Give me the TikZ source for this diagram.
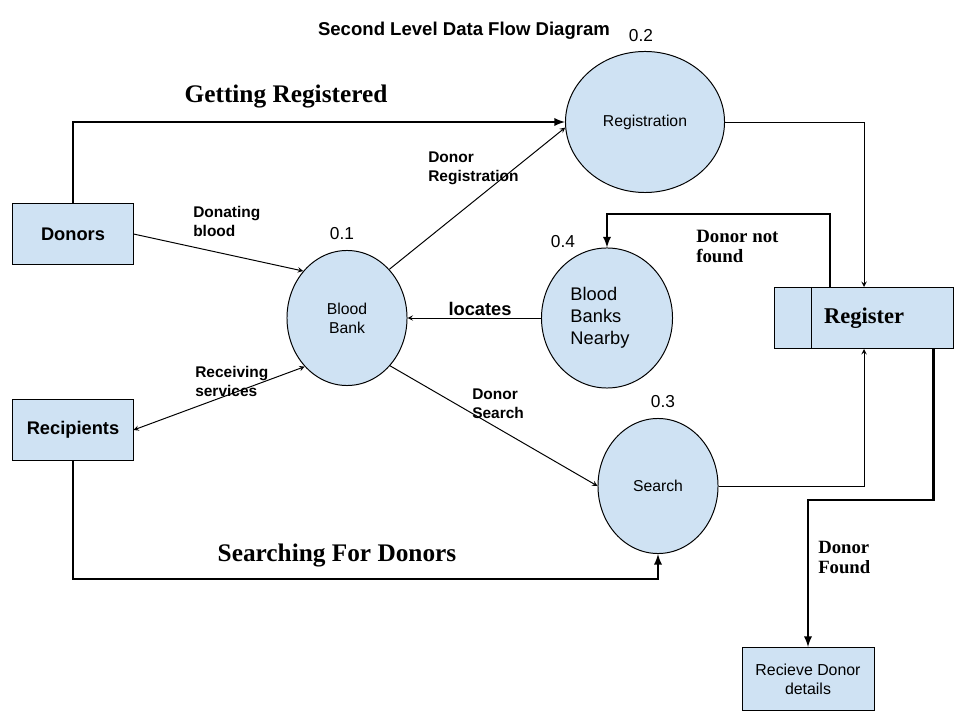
\documentclass[tikz,border=0pt]{standalone}
\usepackage{fontspec}
\setmainfont{Liberation Serif}
\setsansfont{Liberation Sans}
\usepackage{xcolor}
\usetikzlibrary{arrows,shapes.geometric}
\definecolor{paleblue}{HTML}{CFE2F3}

\begin{document}
\begin{tikzpicture}[x=0.025cm, y=-0.025cm,
                    procell/.style={ellipse, align = center, draw = black,
                    fill = paleblue, line width = 0.7pt, inner sep = 0pt,
                    font = \sffamily\fontsize{11.2}{13.6}\selectfont},
                    extrect/.style={rectangle, align = center, draw = black,
                    fill = paleblue, line width = 0.7pt, minimum width = 3cm, minimum height = 1.525cm,
                    font = \sffamily\bfseries\fontsize{13}{15.6}\selectfont},
                    storerect/.style={rectangle, align = center, draw = black,
                    fill = paleblue, line width = 0.7pt, minimum width = 4.45cm, minimum height = 1.525cm,
                    font = \rmfamily\bfseries\fontsize{16}{19}\selectfont},
                    thinarr/.style={>=stealth, ->, line width = 0.7pt, draw = black},
                    thickarr/.style={>=latex, ->, line width = 1.6pt, draw = black},
                    flowlbl/.style={anchor = north west, inner sep = 0pt, align = left,
                    font = \sffamily\bfseries\fontsize{11}{13.5}\selectfont},
                    bigflow/.style={inner sep = 0pt, align = left,
                    font = \rmfamily\bfseries\fontsize{18}{21.6}\selectfont},
                    numlbl/.style={inner sep = 0pt, font = \sffamily\fontsize{12.3}{14.8}\selectfont}]

                    \useasboundingbox (0,0) rectangle (960,720);

                    % title
                    \node[inner sep = 0pt, font = \sffamily\bfseries\fontsize{13.2}{16}\selectfont] (title) at (464,31) {Second Level Data Flow Diagram};

                    % entities and stores
                    \node[extrect] (donors) at (73,234) {Donors};
                    \node[extrect] (recip) at (73,430) {Recipients};
                    \node[storerect] (register) at (864,318) {Register};
                    \draw[line width = 0.7pt] ([xshift = 0.925cm]register.north west) -- ([xshift = 0.925cm]register.south west);
                    \node[extrect, minimum width = 3.3cm, minimum height = 1.575cm,
                          font = \sffamily\fontsize{11.3}{13.6}\selectfont] (recv) at (808,679) {Recieve Donor\\details};

                    % processes
                    \node[procell, minimum width = 3cm, minimum height = 3.375cm] (bank) at (347,318) {Blood\\Bank};
                    \node[numlbl] (nbank) at (342,234) {0.1};
                    \node[procell, minimum width = 3.975cm, minimum height = 3.525cm] (regn) at (645,122) {Registration};
                    \node[numlbl] (nregn) at (641,36) {0.2};
                    \node[procell, minimum width = 3.275cm, minimum height = 3.5cm, align = left, text width = 1.825cm,
                          font = \sffamily\fontsize{13}{15.7}\selectfont] (nearby) at (607,318) {Blood\\Banks\\Nearby};
                    \node[numlbl] (nnearby) at (563,242) {0.4};
                    \node[procell, minimum width = 3cm, minimum height = 3.375cm] (search) at (658,486) {Search};
                    \node[numlbl] (nsearch) at (663,402) {0.3};

                    % flows
                    \draw[thickarr] (donors.north) |- (regn.west);
                    \draw[thinarr] (donors.east) -- (bank.133);
                    \draw[thinarr] (bank.49) -- (regn.184);
                    \draw[thinarr] (nearby.west) -- (bank.east);
                    \draw[thinarr, <->] (recip.east) -- (bank.229);
                    \draw[thinarr] (bank.312) -- (search.west);
                    \draw[thickarr] (recip.south) -- ++(0,118) -| (search.south);
                    \draw[thinarr] (regn.east) -| (register.north);
                    \draw[thinarr] (search.east) -| (register.south);
                    \draw[thickarr] ([xshift = -0.85cm]register.north) -- ++(0,-73) -| (nearby.north);
                    \draw[thickarr] ([xshift = -0.5cm]register.south east) -- ++(0,151) -| (recv.north);

                    % flow labels
                    \node[bigflow] (lgetreg) at (286,97) {Getting Registered};
                    \node[bigflow] (lsearch) at (337,556) {Searching For Donors};
                    \node[flowlbl] (ldonate) at (193,206) {Donating\\blood};
                    \node[flowlbl] (ldonreg) at (428,152) {Donor\\Registration};
                    \node[flowlbl] (lrecv) at (195,366) {Receiving\\services};
                    \node[flowlbl] (ldonsearch) at (472,389) {Donor\\Search};
                    \node[inner sep = 0pt, font = \sffamily\bfseries\fontsize{13}{15.6}\selectfont] (llocates) at (480,309) {locates};
                    \node[flowlbl, font = \rmfamily\bfseries\fontsize{13.4}{14}\selectfont] (lnotfound) at (696,230) {Donor not\\found};
                    \node[flowlbl, font = \rmfamily\bfseries\fontsize{13.3}{14}\selectfont] (lfound) at (818,541) {Donor\\Found};
                    \end{tikzpicture}
\end{document}
